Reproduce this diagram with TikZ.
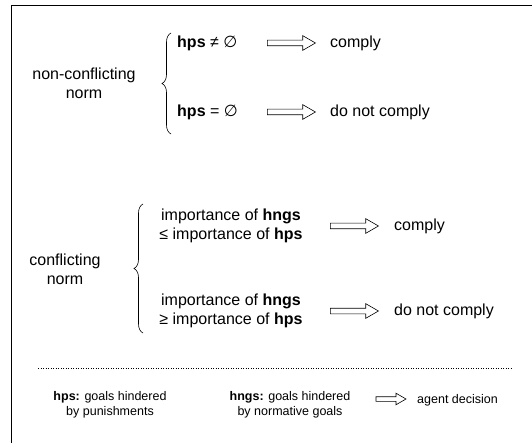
\documentclass[tikz,border=0pt]{standalone}
\usepackage{fontspec}
\setmainfont{Liberation Sans}
\newfontfamily\symfont{DejaVu Sans}
\usetikzlibrary{shapes.arrows,decorations.pathreplacing}

\tikzset{
  txt/.style={inner sep=0pt, font=\fontsize{16}{19}\selectfont},
  lgd/.style={inner sep=0pt, align=center, font=\fontsize{12.5}{15}\selectfont},
  decarrow/.style={single arrow, draw, line width=0.6pt, inner xsep=0pt,
    inner ysep=2.5pt, single arrow head extend=4.5pt,
    single arrow tip angle=60, minimum height=48pt},
  brc/.style={decorate, decoration={brace, amplitude=9pt, aspect=0.5},
    line width=0.6pt}
}

\begin{document}
\begin{tikzpicture}[x=1pt, y=-1pt]

	\useasboundingbox (0,0) rectangle (532,443);
	\draw[line width=1pt] (532,6) -- (11,6) -- (11,443);

	% non-conflicting norm
	\node[txt, align=center] (nc) at (84,83) {non-conflicting\\norm};
	\draw[brc] (171,134) -- (171,33);
	\node[txt, anchor=west] (c1) at (177,43) {\textbf{hps} ≠ {\symfont ∅}};
	\node[txt, anchor=west] (c2) at (177,112) {\textbf{hps} = {\symfont ∅}};
	\node[decarrow] (a1) at (289,43) {};
	\node[decarrow] (a2) at (289,112) {};
	\node[txt, anchor=west] (r1) at (330,43) {comply};
	\node[txt, anchor=west] (r2) at (330,112) {do not comply};

	% conflicting norm
	\node[txt, align=center] (cn) at (65,269) {conflicting\\norm};
	\draw[brc] (143,333) -- (143,204);
	\node[txt, align=center] (cc1) at (231,226)
	  {importance of \textbf{hngs}\\≤ importance of \textbf{hps}};
	\node[txt, align=center] (cc2) at (231,311)
	  {importance of \textbf{hngs}\\≥ importance of \textbf{hps}};
	\node[decarrow] (a3) at (352,226) {};
	\node[decarrow] (a4) at (352,311) {};
	\node[txt, anchor=west] (rc1) at (394,226) {comply};
	\node[txt, anchor=west] (rc2) at (394,311) {do not comply};

	% legend
	\draw[dotted, line width=0.5pt] (38,368) -- (512,368);
	\node[lgd] (l1) at (110,405) {\textbf{hps:} goals hindered\\by punishments};
	\node[lgd] (l2) at (290,405) {\textbf{hngs:} goals hindered\\by normative goals};
	\node[decarrow, minimum height=30pt, inner ysep=2pt,
	  single arrow head extend=3.5pt] (a5) at (389,399) {};
	\node[lgd, anchor=west] (l3) at (417,400) {agent decision};

\end{tikzpicture}
\end{document}
